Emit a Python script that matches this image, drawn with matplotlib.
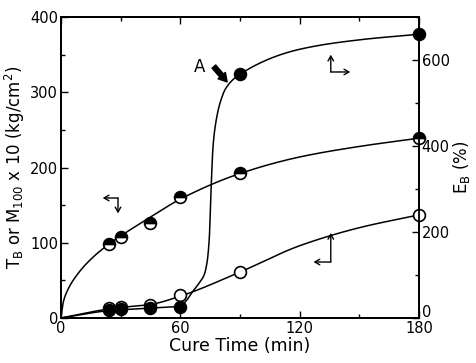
import numpy as np
import matplotlib
matplotlib.use("Agg")
import matplotlib.pyplot as plt
from matplotlib.ticker import MultipleLocator
import matplotlib.transforms as mtransforms

# ---- data ----
# Tensile strength T_B (half-filled circles, left axis)
tb_t = [24, 30, 45, 60, 90, 180]
tb_v = [99, 108, 126, 161, 193, 239]
# M100 x 10 (open circles, left axis)
m_t = [24, 30, 45, 60, 90, 180]
m_v = [13, 14, 17, 30, 61, 137]
# Elongation E_B (filled circles, right axis, %)
eb_t = [24, 30, 45, 60, 90, 180]
eb_v = [18, 20, 24, 26, 567, 660]

# smooth curves
tbc_t = [0, 1, 3, 8, 15, 24, 30, 45, 60, 90, 120, 150, 180]
tbc_v = [0, 19, 35, 57, 78, 98, 109, 134, 158, 192, 214, 228, 239]
mc_t = [0, 24, 30, 45, 60, 90, 120, 150, 180]
mc_v = [0, 12, 14, 18, 29, 61, 96, 120, 137]
ebc_t = [0, 24, 30, 45, 60, 63, 66, 69, 72, 73.5, 74.6, 75.5, 76.5, 78, 80, 83, 90, 120, 150, 180]
ebc_v = [0, 17, 19, 23, 28, 40, 60, 78, 100, 130, 185, 300, 400, 458, 500, 535, 567, 625, 647, 660]

x_ticks = [0, 60, 120, 180]
left_ticks = [0, 100, 200, 300, 400]
right_ticks = [0, 200, 400, 600]


def pchip(x, y, xn):
    x = np.asarray(x, float); y = np.asarray(y, float)
    h = np.diff(x); d = np.diff(y) / h
    n = len(x); m = np.zeros(n)
    for k in range(1, n - 1):
        if d[k - 1] * d[k] > 0:
            w1 = 2 * h[k] + h[k - 1]; w2 = h[k] + 2 * h[k - 1]
            m[k] = (w1 + w2) / (w1 / d[k - 1] + w2 / d[k])
    m[0] = d[0]; m[-1] = d[-1]
    idx = np.clip(np.searchsorted(x, xn) - 1, 0, n - 2)
    t = (xn - x[idx]) / h[idx]
    h00 = 2 * t**3 - 3 * t**2 + 1; h10 = t**3 - 2 * t**2 + t
    h01 = -2 * t**3 + 3 * t**2; h11 = t**3 - t**2
    return h00 * y[idx] + h10 * h[idx] * m[idx] + h01 * y[idx + 1] + h11 * h[idx] * m[idx + 1]


fig = plt.figure(figsize=(4.76, 3.63), dpi=100)
ax = fig.add_axes([0.128, 0.124, 0.752, 0.829])
ax2 = ax.twinx()

xx = np.linspace(0, 180, 3000)
lw = 1.1
ax.plot(xx, pchip(tbc_t, tbc_v, xx), color='black', lw=lw, zorder=2)
ax.plot(xx, pchip(mc_t, mc_v, xx), color='black', lw=lw, zorder=2)
ax2.plot(xx, pchip(ebc_t, ebc_v, xx), color='black', lw=lw, zorder=2)

ms = 8.5
ax.plot(tb_t, tb_v, 'o', ms=ms, mec='black', mfc='black', fillstyle='top',
        markerfacecoloralt='white', mew=1.2, zorder=4, clip_on=False)
ax.plot(m_t, m_v, 'o', ms=ms, mec='black', mfc='white', mew=1.2, zorder=4, clip_on=False)
ax2.plot(eb_t, eb_v, 'o', ms=ms, mec='black', mfc='black', mew=1.2, zorder=4, clip_on=False)

ax.set_xlim(0, 180)
ax.set_ylim(0, 400)
ax2.set_ylim(0, 700)
ax.set_xticks(x_ticks)
ax.set_yticks(left_ticks)
ax2.set_yticks(right_ticks)
ax.xaxis.set_minor_locator(MultipleLocator(30))
ax.yaxis.set_minor_locator(MultipleLocator(50))
ax2.yaxis.set_minor_locator(MultipleLocator(100))

fs = 10.5
ax.tick_params(axis='both', which='both', direction='in', labelsize=fs, width=1.0)
ax.tick_params(axis='x', which='both', top=True, pad=2)
ax.tick_params(axis='y', which='both', pad=2)
ax.tick_params(which='major', length=5)
ax.tick_params(which='minor', length=3)
ax2.tick_params(axis='y', which='both', direction='in', labelsize=fs, width=1.0, pad=2)
ax2.tick_params(which='major', length=5)
ax2.tick_params(which='minor', length=3)
for a in (ax, ax2):
    for s in a.spines.values():
        s.set_linewidth(1.3)

# raise the right-axis "0" label a little so it clears the "180" below it
fig.canvas.draw()
lab0 = ax2.get_yticklabels()[0]
lab0.set_transform(lab0.get_transform() + mtransforms.ScaledTranslation(0, 5 / 72, fig.dpi_scale_trans))

ax.set_xlabel('Cure Time (min)', fontsize=12.5, labelpad=1)
ax.set_ylabel(r'T$_\mathregular{B}$ or M$_\mathregular{100}$ x 10 (kg/cm$^\mathregular{2}$)', fontsize=12, labelpad=2)
ax2.set_ylabel(r'E$_\mathregular{B}$ (%)', fontsize=12, labelpad=1, rotation=90)

# label A with thick arrow
ax.annotate('', xy=(84.5, 311), xytext=(76.0, 337),
            arrowprops=dict(arrowstyle='simple,head_width=0.7,head_length=0.6,tail_width=0.35',
                            color='black'), zorder=5)
ax.text(69.5, 334, 'A', fontsize=12, ha='center', va='center')

# axis-direction arrows
def corner(cx, cy, pts):
    for (ex, ey) in pts:
        ax.annotate('', xy=(ex, ey), xytext=(cx, cy),
                    arrowprops=dict(arrowstyle='->,head_width=0.2,head_length=0.35',
                                    color='black', lw=1.0, shrinkA=0, shrinkB=0))

corner(28.7, 159.5, [(21.0, 159.5), (28.7, 139.0)])
corner(135.7, 327, [(135.7, 350), (145.5, 327)])
corner(135.7, 74.4, [(135.7, 113), (127.0, 74.4)])

fig.savefig('out.png', dpi=100)
